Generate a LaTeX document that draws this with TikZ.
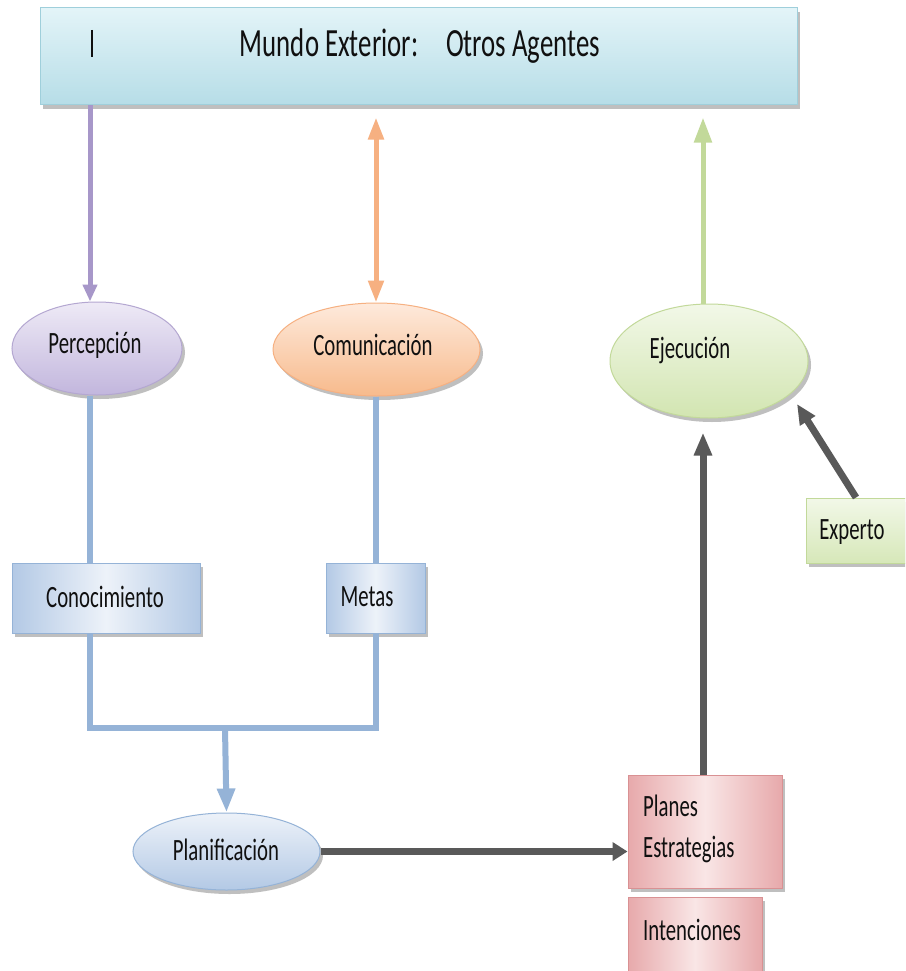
\documentclass[tikz,border=0pt]{standalone}
\usepackage{fontspec}
\setmainfont[FakeStretch=0.67]{Carlito}
\usetikzlibrary{shadows,arrows.meta,shapes.geometric}

\definecolor{skyTop}{HTML}{E3F4F8}
\definecolor{skyBot}{HTML}{B6DDE7}
\definecolor{skyLine}{HTML}{9FCFDB}
\definecolor{lilacLine}{HTML}{A797C9}
\definecolor{lilacTop}{HTML}{EEEAF6}
\definecolor{lilacBot}{HTML}{C2B6DD}
\definecolor{peachLine}{HTML}{F6B081}
\definecolor{peachTop}{HTML}{FEEADC}
\definecolor{peachBot}{HTML}{F7BA8C}
\definecolor{leafLine}{HTML}{C2D99A}
\definecolor{leafTop}{HTML}{F2F8E8}
\definecolor{leafBot}{HTML}{D2E5B1}
\definecolor{steel}{HTML}{95B3D7}
\definecolor{steelTop}{HTML}{EDF2F9}
\definecolor{steelBot}{HTML}{B3C9E5}
\definecolor{roseLine}{HTML}{D99193}
\definecolor{roseA}{HTML}{E7A9AB}
\definecolor{roseB}{HTML}{F9E6E6}
\definecolor{slate}{HTML}{595959}
\definecolor{ink}{HTML}{101010}

\newcommand\figlbl{\fontsize{31}{36}\selectfont}

\begin{document}
\begin{tikzpicture}[x=1pt,y=-1pt,
  softshadow/.style={drop shadow={shadow xshift=3pt,shadow yshift=-4pt,fill=black!45,opacity=.55}},
  blob/.style={ellipse,draw,line width=1pt,inner sep=0pt,softshadow},
  card/.style={rectangle,draw,line width=1pt,inner sep=0pt,softshadow},
  txt/.style={text=ink,inner sep=0pt,font=\figlbl},
  lefttxt/.style={txt,anchor=west},
  conn/.style={line width=5pt},
  thick conn/.style={line width=6pt},
  heavy conn/.style={line width=7pt,draw=slate},
  tipP/.style={-{Triangle[width=14pt,length=17pt]}},
  tipG/.style={-{Triangle[width=17pt,length=25pt]}},
  tipB/.style={-{Triangle[width=17pt,length=24pt]}},
  tipH/.style={-{Triangle[width=18pt,length=15pt]}},
  tipV/.style={-{Triangle[width=17pt,length=23pt]}},
  tipD/.style={-{Triangle[width=17pt,length=20pt]}},
]
\clip (0,0) rectangle (905,971);
\fill[white] (0,0) rectangle (905,971);

% column positions of the vertical connectors
\coordinate (c1) at (90,0);
\coordinate (c2) at (376,0);
\coordinate (c3) at (703,0);
\coordinate (jn) at (225,728);
\coordinate (exptip) at (797,404);

% outer world banner
\node[card,draw=skyLine,top color=skyTop,bottom color=skyBot,
      minimum width=757pt,minimum height=97pt] (world) at (418.5,56.5) {};
\node[txt,font=\fontsize{40}{48}\selectfont] (wtitle) at (420,46)
  {Mundo Exterior:\hspace{28pt}Otros Agentes};
\draw[line width=1.6pt,ink] (92,30) -- (92,57);

% process ellipses
\node[blob,draw=lilacLine!85,top color=lilacTop,bottom color=lilacBot,
      minimum width=170pt,minimum height=93pt] (perc) at (97,348.5) {};
\node[txt] (perc-t) at (95,345) {Percepción};

\node[blob,draw=peachLine,top color=peachTop,bottom color=peachBot,
      minimum width=207pt,minimum height=93pt] (comm) at (376.5,349.5) {};
\node[txt] (comm-t) at (373,345) {Comunicación};

\node[blob,draw=leafLine,top color=leafTop,bottom color=leafBot,
      minimum width=198pt,minimum height=114pt] (exec) at (709,361) {};
\node[txt] (exec-t) at (690,350) {Ejecución};

\node[blob,draw=steel,top color=steelTop,bottom color=steelBot,
      minimum width=187pt,minimum height=77pt] (plan) at (226.5,851.5) {};
\node[txt] (plan-t) at (226,850) {Planificación};

% stores
\node[card,draw=steel,shading=axis,shading angle=135,
      left color=steelBot,right color=steelBot,middle color=steelTop,
      minimum width=188pt,minimum height=70pt] (know) at (106,598) {};
\node[txt] (know-t) at (105,597) {Conocimiento};

\node[card,draw=steel,shading=axis,shading angle=135,
      left color=steelBot,right color=steelBot,middle color=steelTop,
      minimum width=99pt,minimum height=70pt] (goals) at (375.5,598) {};
\node[txt] (goals-t) at (367,597) {Metas};

\node[card,draw=leafLine,top color=leafTop,bottom color=leafBot!90,
      minimum width=110pt,minimum height=65pt] (expert) at (861,530.5) {};
\node[txt] (expert-t) at (852,532) {Experto};

\node[card,draw=roseLine,shading=axis,shading angle=135,
      left color=roseA,right color=roseA,middle color=roseB,
      minimum width=154pt,minimum height=113pt] (plans) at (705,831.5) {};
\node[lefttxt] (plans-t1) at (643,806) {Planes};
\node[lefttxt] (plans-t2) at (643,849) {Estrategias};

\node[card,draw=roseLine,shading=axis,shading angle=135,
      left color=roseA,right color=roseA,middle color=roseB,
      minimum width=134pt,minimum height=80pt] (intent) at (695,937) {};
\node[lefttxt] (intent-t) at (643,930) {Intenciones};

% links to and from the outer world
\draw[conn,lilacLine,tipP] (world.south -| c1) -- (perc.north -| c1);
\draw[conn,peachLine,{Triangle[width=15pt,length=22pt]}-{Triangle[width=15pt,length=22pt]},
      shorten <=12pt] (world.south -| c2) -- (comm.north -| c2);
\draw[conn,leafLine,tipG,shorten >=12pt] (exec.north -| c3) -- (world.south -| c3);

% knowledge and goals feeding the planner
\draw[thick conn,steel] (perc.south -| c1) -- (know.north -| c1);
\draw[thick conn,steel] (comm.south -| c2) -- (goals.north -| c2);
\draw[thick conn,steel] (know.south -| c1) |- (jn) -| (goals.south -| c2);
\draw[thick conn,steel,tipB] (jn) -- (plan.north);

% planning to execution
\draw[heavy conn,tipH] (plan.east) -- (plan.east -| plans.west);
\draw[heavy conn,tipV,shorten >=14pt] (plans.north -| c3) -- (exec.south -| c3);
\draw[heavy conn,tipD] ([xshift=-5pt]expert.north) -- (exptip);
\end{tikzpicture}
\end{document}
